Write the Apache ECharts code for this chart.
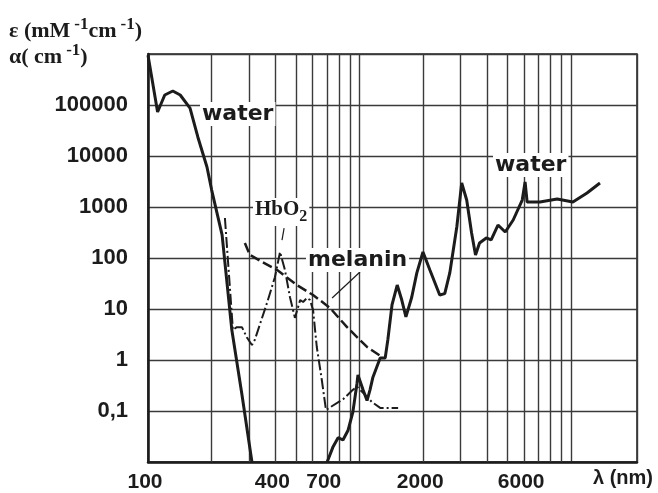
<!DOCTYPE html>
<html>
<head>
<meta charset="utf-8">
<script src="https://cdn.jsdelivr.net/npm/echarts@6/dist/echarts.min.js"></script>
<style>
html,body{margin:0;padding:0;background:#fff;}
#chart{width:658px;height:493px;}
</style>
</head>
<body>
<div id="chart"></div>
<script>
// ---- data (wavelength nm, absorption) ----
const waterUV = [[100,950000],[111,73000],[120,157000],[131,188000],[142,157000],[158,87000],[172,23600],[190,6080],[200,2150],[224,283],[249,3.9],[278,0.21],[310,0.01]];
const waterIR = [[703,0.01],[750,0.02],[792,0.03],[835,0.027],[883,0.042],[930,0.095],[973,0.35],[983,0.51],[1039,0.26],[1085,0.16],[1121,0.26],[1157,0.46],[1252,1.09],[1322,1.09],[1361,2.5],[1424,12],[1507,29.5],[1584,15],[1657,7],[1765,17],[1866,51],[1995,131],[2151,58],[2394,18.8],[2529,20],[2671,51],[2883,405],[3041,2950],[3211,1370],[3387,309],[3535,115],[3692,197],[3975,247],[4191,226],[4513,443],[4886,323],[5326,556],[5877,1370],[6063,3090],[6200,1250],[7126,1250],[8595,1430],[10200,1250],[11900,1880],[13700,2950]];
const hbo2 = [[231,608],[252,3.9],[263,4.4],[278,4.4],[293,2.8],[310,1.97],[320,2.5],[365,13],[398,42],[421,131],[444,58],[469,17],[495,6.7],[524,15],[541,13.7],[565,16.5],[583,15],[603,9.6],[628,1.8],[663,0.41],[694,0.105],[836,0.17],[930,0.26],[973,0.3],[1060,0.21],[1144,0.15],[1252,0.115],[1522,0.115]];
const melanin = [[287,197],[303,115],[346,84],[408,58],[506,29.5],[603,18.8],[725,10.5],[873,4.4],[1085,1.8],[1276,1.15]];

const xMinorGrid = [200,300,400,500,600,700,800,900,2000,3000,4000,5000,6000,7000,8000,9000];
const xTickValues = [100,400,700,2000,6000];
const xTickLabels = ['100','400','700','2000','6000'];
const yTickValues = [0.1,1,10,100,1000,10000,100000];
const yTickLabels = ['0,1','1','10','100','1000','10000','100000'];

const hbo2Pointer = [[440,387],[430,225]];
const melaninPointer = [[1005,53],[742,16.4]];

const INK = '#1c1c1c';
const GRID = '#3a3a3a';

const chart = echarts.init(document.getElementById('chart'), null, {renderer:'canvas'});

const yLabelFmt = function(v){
  for (let i=0;i<yTickValues.length;i++){
    if (Math.abs(Math.log10(v) - Math.log10(yTickValues[i])) < 0.01) return yTickLabels[i];
  }
  return '';
};

const supRich = {
  a:{fontFamily:'Liberation Serif',fontWeight:'bold',fontSize:22,fill:INK,lineHeight:26,verticalAlign:'bottom'},
  s:{fontFamily:'Liberation Serif',fontWeight:'bold',fontSize:17,fill:INK,lineHeight:26,verticalAlign:'top',padding:[0,0,9,4]}
};

chart.setOption({
  animation:false,
  backgroundColor:'#ffffff',
  grid:{left:148,right:21,top:54,bottom:31,show:true,borderColor:INK,borderWidth:1.5,outerBoundsMode:'none',containLabel:false},
  xAxis:{
    type:'log', logBase:10, min:100, max:20500,
    axisLine:{show:true,onZero:false,lineStyle:{color:INK,width:2.5}},
    axisTick:{show:false},
    axisLabel:{show:false},
    splitLine:{show:true,lineStyle:{color:GRID,width:1.4}},
    minorSplitLine:{show:false}
  },
  yAxis:{
    type:'log', logBase:10, min:0.01, max:1000000,
    axisLine:{show:true,onZero:false,lineStyle:{color:INK,width:2.5}},
    axisTick:{show:false},
    axisLabel:{show:true,formatter:yLabelFmt,margin:20,color:INK,fontFamily:'Liberation Sans',fontWeight:'bold',fontSize:22},
    splitLine:{show:true,lineStyle:{color:GRID,width:1.4}}
  },
  series:[
    {
      name:'grid', type:'line', data:[], silent:true,
      markLine:{
        silent:true, symbol:['none','none'], z:1, animation:false,
        lineStyle:{color:GRID,width:1.4,type:'solid'},
        label:{show:false},
        data: xMinorGrid.map(v=>({xAxis:v}))
      }
    },
    {
      name:'xlabels', type:'line', data:[], silent:true,
      markLine:{
        silent:true, symbol:['none','none'], animation:false,
        lineStyle:{color:'rgba(0,0,0,0)',width:1,type:'solid'},
        label:{show:true,position:'start',distance:10,offset:[-3,0],color:INK,fontFamily:'Liberation Sans',fontWeight:'bold',fontSize:21},
        data: xTickValues.map((v,i)=>({xAxis:v,label:{formatter:xTickLabels[i]}}))
      }
    },
    {
      name:'water', type:'line', data:waterUV, showSymbol:false, z:4,
      lineStyle:{color:INK,width:3}
    },
    {
      name:'water IR', type:'line', data:waterIR, showSymbol:false, z:4,
      lineStyle:{color:INK,width:3}
    },
    {
      name:'HbO2', type:'line', data:hbo2, showSymbol:false, z:3,
      lineStyle:{color:INK,width:2,type:[11,3,2,3]},
      markLine:{
        silent:true, symbol:['none','none'], animation:false,
        lineStyle:{color:INK,width:1.2,type:'solid'},
        label:{show:false},
        data:[[{coord:hbo2Pointer[0]},{coord:hbo2Pointer[1]}]]
      }
    },
    {
      name:'melanin', type:'line', data:melanin, showSymbol:false, z:3,
      lineStyle:{color:INK,width:2.5,type:[10,4]},
      markLine:{
        silent:true, symbol:['none','none'], animation:false,
        lineStyle:{color:INK,width:1.2,type:'solid'},
        label:{show:false},
        data:[[{coord:melaninPointer[0]},{coord:melaninPointer[1]}]]
      }
    }
  ],
  graphic:[
    {type:'text', left:9, top:16, z:10, style:{text:'{a|ε (mM}{s|-1}{a|cm}{s|-1}{a|)}', rich:supRich}},
    {type:'text', left:9, top:42, z:10, style:{text:'{a|α( cm}{s|-1}{a|)}', rich:supRich}},
    {type:'text', x:200, y:114, z:10, style:{text:'water',fontFamily:'DejaVu Sans',fontWeight:'bold',fontSize:22,fill:INK,verticalAlign:'middle',backgroundColor:'#fff',padding:[1,2]}},
    {type:'text', x:493, y:165, z:10, style:{text:'water',fontFamily:'DejaVu Sans',fontWeight:'bold',fontSize:22,fill:INK,verticalAlign:'middle',backgroundColor:'#fff',padding:[1,2]}},
    {type:'text', x:306, y:260, z:10, style:{text:'melanin',fontFamily:'DejaVu Sans',fontWeight:'bold',fontSize:22,fill:INK,verticalAlign:'middle',backgroundColor:'#fff',padding:[1,2]}},
    {type:'text', x:253, y:212, z:10, style:{
      text:'{a|HbO}{b|2}', verticalAlign:'middle', backgroundColor:'#fff', padding:[1,2],
      rich:{
        a:{fontFamily:'Liberation Serif',fontWeight:'bold',fontSize:21,fill:INK,lineHeight:26,verticalAlign:'top'},
        b:{fontFamily:'Liberation Serif',fontWeight:'bold',fontSize:16,fill:INK,lineHeight:26,verticalAlign:'bottom'}
      }}},
    {type:'text', x:593, y:478, z:10, style:{text:'λ (nm)',fontFamily:'Liberation Sans',fontWeight:'bold',fontSize:20,fill:INK,verticalAlign:'middle'}}
  ]
});
</script>
</body>
</html>
